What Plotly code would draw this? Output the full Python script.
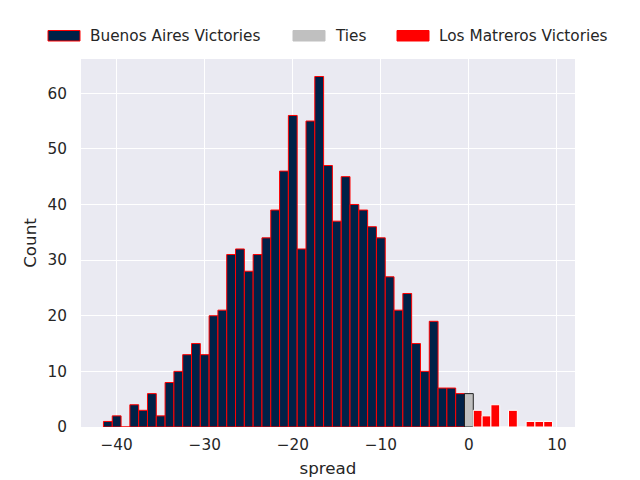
import plotly.graph_objects as go

# Buenos Aires victories (negative spread)
ba_spread = list(range(-41, 0))
ba_count = [1, 2, 0, 4, 3, 6, 2, 8, 10, 13, 15, 13, 20, 21, 31, 32, 28, 31, 34, 39,
            46, 56, 32, 55, 63, 47, 37, 45, 40, 39, 36, 34, 27, 21, 24, 15, 10, 19, 7, 7, 6]
# Ties
tie_spread = [0]
tie_count = [6]
# Los Matreros victories (positive spread)
lm_spread = list(range(1, 10))
lm_count = [3, 2, 4, 0, 3, 0, 1, 1, 1]

x_ticks = [-40, -30, -20, -10, 0, 10]
y_ticks = [0, 10, 20, 30, 40, 50, 60]

NAVY = "#002147"
FONT = "DejaVu Sans"
TXT = "#262626"

W, H = 640, 480
OFF = 8  # page body margin in the screenshot
# target plot area in screenshot pixels: x 81..575, y 59..427
L = 81 - OFF
T = 59 - OFF
R = W - (575 - OFF)
B = H - (427 - OFF)
PW, PH = W - L - R, H - T - B

def px_x(x):
    return (x - OFF - L) / PW

def px_y(y):
    return (H - B - (y - OFF)) / PH

series = [
    dict(name="Buenos Aires Victories", x=ba_spread, y=ba_count, fill=NAVY, edge="red", lw=1,
         patch_x=48, legend_edge="red"),
    dict(name="Ties", x=tie_spread, y=tie_count, fill="#c0c0c0", edge="#222222", lw=1,
         patch_x=293, legend_edge="#c0c0c0"),
    dict(name="Los Matreros Victories", x=lm_spread, y=lm_count, fill="red", edge="white", lw=1,
         patch_x=397, legend_edge="red"),
]

fig = go.Figure()
for s in series:
    fig.add_trace(go.Bar(x=s["x"], y=s["y"], width=1, name=s["name"],
                         marker=dict(color=s["fill"], line=dict(color=s["edge"], width=s["lw"]))))
    # manual legend entry (wide patch like matplotlib)
    fig.add_shape(type="rect", xref="paper", yref="paper",
                  x0=px_x(s["patch_x"]), x1=px_x(s["patch_x"] + 32),
                  y0=px_y(41), y1=px_y(30.5),
                  fillcolor=s["fill"], line=dict(color=s["legend_edge"], width=1))
    fig.add_annotation(xref="paper", yref="paper", x=px_x(s["patch_x"] + 40), y=px_y(36),
                       xanchor="left", yanchor="middle", showarrow=False, text=s["name"],
                       font=dict(size=15.3, color=TXT, family=FONT))

fig.update_layout(
    width=W, height=H,
    barmode="overlay",
    paper_bgcolor="white",
    plot_bgcolor="#EAEAF2",
    font=dict(family=FONT, size=15, color=TXT),
    margin=dict(l=L, r=R, t=T, b=B, autoexpand=False),
    showlegend=False,
    xaxis=dict(range=[-44.05, 12.05], tickvals=x_ticks, showgrid=True,
               gridcolor="white", gridwidth=1.4, zeroline=False, showline=False,
               ticks="", title=dict(text="spread", font=dict(size=16.7), standoff=9),
               tickfont=dict(size=15.3), ticklabelstandoff=7),
    yaxis=dict(range=[0, 66.15], tickvals=y_ticks, showgrid=True,
               gridcolor="white", gridwidth=1.4, zeroline=False, showline=False,
               ticks="", title=dict(text="Count", font=dict(size=16.7), standoff=6),
               tickfont=dict(size=15.3), ticklabelstandoff=13),
)

fig.write_html("out.html")
